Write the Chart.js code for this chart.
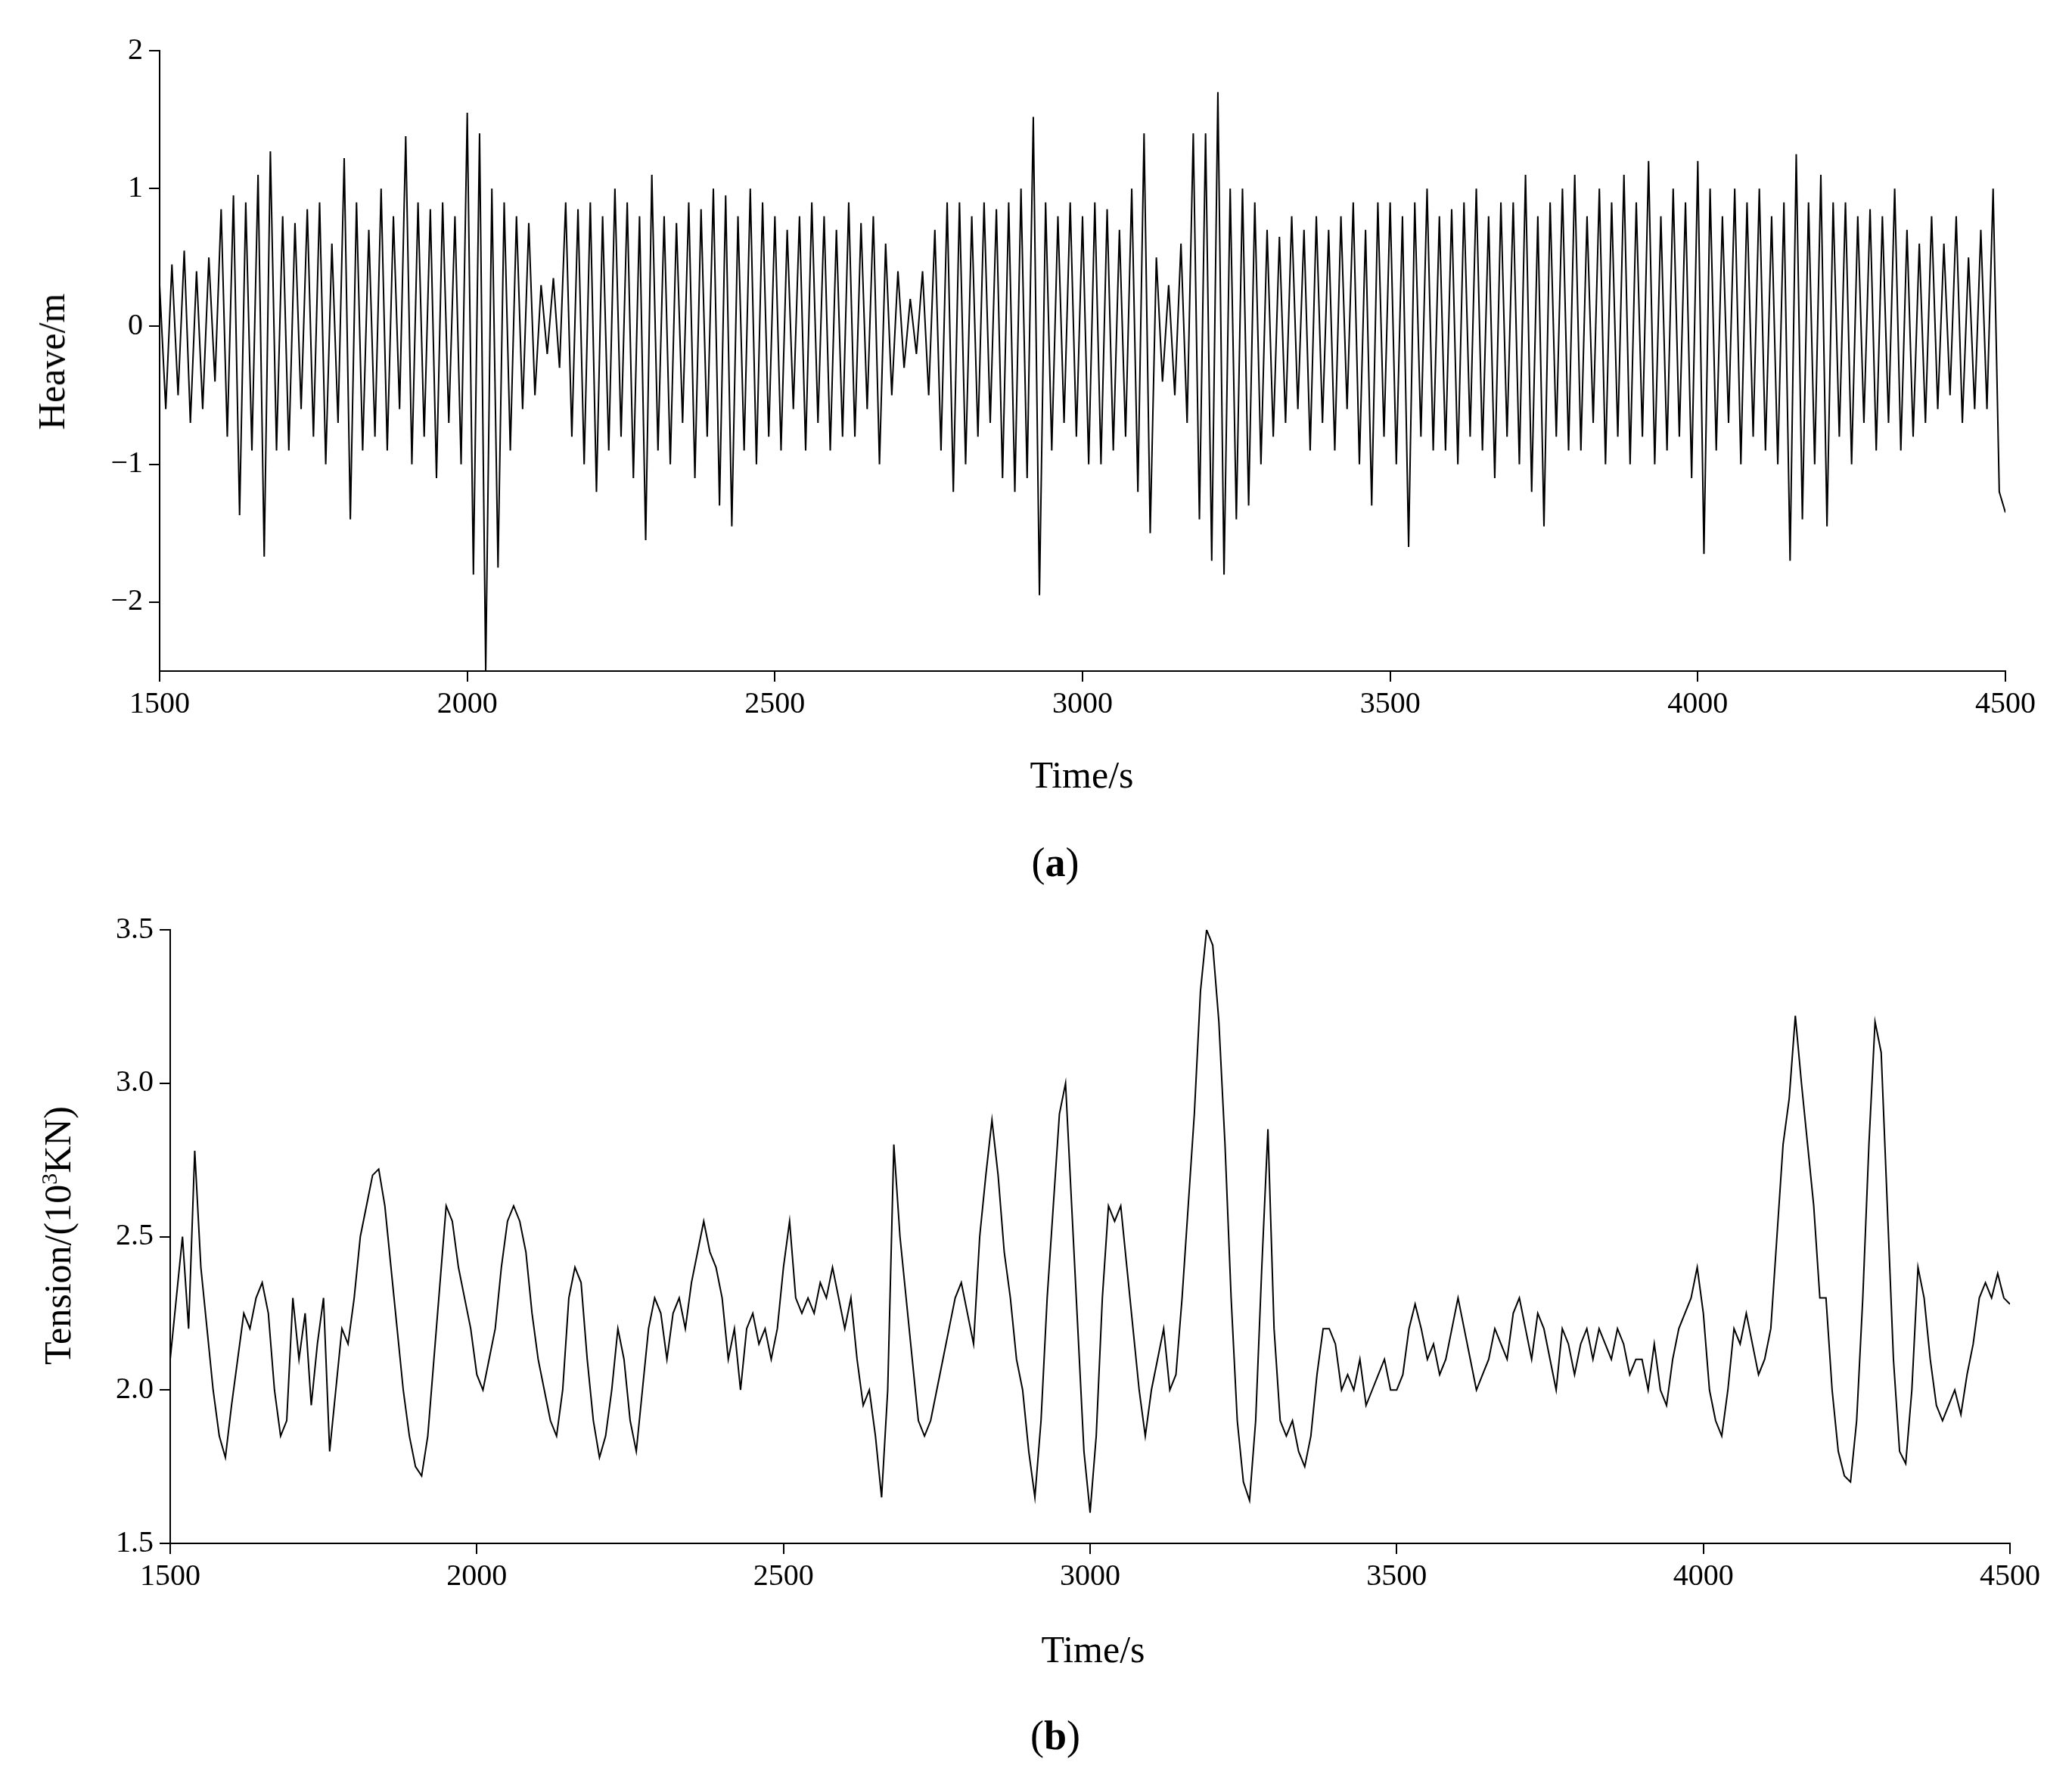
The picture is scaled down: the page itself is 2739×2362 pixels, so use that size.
<!DOCTYPE html>
<html><head><meta charset="utf-8">
<script src="https://cdn.jsdelivr.net/npm/chart.js@4/dist/chart.umd.min.js"></script>
<style>
body{margin:0;background:#fff;width:2739px;height:2362px;position:relative;overflow:hidden;font-family:"Liberation Serif",serif;}
canvas{position:absolute;left:0;}
.t{position:absolute;font-size:50px;color:#000;white-space:nowrap;transform:translate(-50%,-50%);}
.r{transform:translate(-50%,-50%) rotate(-90deg);}
</style></head><body>
<canvas id="ca" style="top:0"></canvas>
<canvas id="cb" style="top:1160px"></canvas>
<div class="t" style="left:1430px;top:1024px">Time/s</div>
<div class="t" style="left:1395px;top:1140px;font-size:54px">(<b>a</b>)</div>
<div class="t r" style="left:68px;top:478px">Heave/m</div>
<div class="t" style="left:1445px;top:2180px">Time/s</div>
<div class="t" style="left:1395px;top:2294px;font-size:54px">(<b>b</b>)</div>
<div class="t r" style="left:76px;top:1633px">Tension/(10<sup style="font-size:30px">3</sup>KN)</div>
<script>
const xTicks=[1500,2000,2500,3000,3500,4000,4500];
const heaveTicks=[-2,-1,0,1,2];
const tensionTicks=[1.5,2.0,2.5,3.0,3.5];
const heave=[
0.3,-0.6,0.45,-0.5,0.55,-0.7,0.4,-0.6,0.5,-0.4,
0.85,-0.8,0.95,-1.37,0.9,-0.9,1.1,-1.67,1.27,-0.9,
0.8,-0.9,0.75,-0.6,0.85,-0.8,0.9,-1.0,0.6,-0.7,
1.22,-1.4,0.9,-0.9,0.7,-0.8,1.0,-0.9,0.8,-0.6,
1.38,-1.0,0.9,-0.8,0.85,-1.1,0.9,-0.7,0.8,-1.0,
1.55,-1.8,1.4,-2.5,1.0,-1.75,0.9,-0.9,0.8,-0.6,
0.75,-0.5,0.3,-0.2,0.35,-0.3,0.9,-0.8,0.85,-1.0,
0.9,-1.2,0.8,-0.9,1.0,-0.8,0.9,-1.1,0.8,-1.55,
1.1,-0.9,0.8,-1.0,0.75,-0.7,0.9,-1.1,0.85,-0.8,
1.0,-1.3,0.95,-1.45,0.8,-0.9,1.0,-1.0,0.9,-0.8,
0.8,-0.9,0.7,-0.6,0.8,-0.9,0.9,-0.7,0.8,-0.9,
0.7,-0.8,0.9,-0.8,0.75,-0.6,0.8,-1.0,0.6,-0.5,
0.4,-0.3,0.2,-0.2,0.4,-0.5,0.7,-0.9,0.9,-1.2,
0.9,-1.0,0.8,-0.8,0.9,-0.7,0.85,-1.1,0.9,-1.2,
1.0,-1.1,1.52,-1.95,0.9,-0.9,0.8,-0.7,0.9,-0.8,
0.8,-1.0,0.9,-1.0,0.85,-0.9,0.7,-0.8,1.0,-1.2,
1.4,-1.5,0.5,-0.4,0.3,-0.5,0.6,-0.7,1.4,-1.4,
1.4,-1.7,1.7,-1.8,1.0,-1.4,1.0,-1.3,0.9,-1.0,
0.7,-0.8,0.65,-0.7,0.8,-0.6,0.7,-0.9,0.8,-0.7,
0.7,-0.9,0.8,-0.6,0.9,-1.0,0.7,-1.3,0.9,-0.8,
0.9,-1.0,0.8,-1.6,0.9,-0.8,1.0,-0.9,0.8,-0.9,
0.85,-1.0,0.9,-0.8,1.0,-0.9,0.8,-1.1,0.9,-0.8,
0.9,-1.0,1.1,-1.2,0.8,-1.45,0.9,-0.8,1.0,-0.9,
1.1,-0.9,0.8,-0.7,1.0,-1.0,0.9,-0.8,1.1,-1.0,
0.9,-0.8,1.2,-1.0,0.8,-0.9,1.0,-0.8,0.9,-1.1,
1.2,-1.65,1.0,-0.9,0.8,-0.7,1.0,-1.0,0.9,-0.8,
1.0,-0.9,0.8,-1.0,0.9,-1.7,1.25,-1.4,0.9,-1.0,
1.1,-1.45,0.9,-0.8,0.9,-1.0,0.8,-0.7,0.85,-0.9,
0.8,-0.7,1.0,-0.9,0.7,-0.8,0.6,-0.7,0.8,-0.6,
0.6,-0.5,0.8,-0.7,0.5,-0.6,0.7,-0.6,1.0,-1.2,
-1.35];
const tension=[
2.1,2.3,2.5,2.2,2.78,2.4,2.2,2.0,1.85,1.78,
1.95,2.1,2.25,2.2,2.3,2.35,2.25,2.0,1.85,1.9,
2.3,2.1,2.25,1.95,2.15,2.3,1.8,2.0,2.2,2.15,
2.3,2.5,2.6,2.7,2.72,2.6,2.4,2.2,2.0,1.85,
1.75,1.72,1.85,2.1,2.35,2.6,2.55,2.4,2.3,2.2,
2.05,2.0,2.1,2.2,2.4,2.55,2.6,2.55,2.45,2.25,
2.1,2.0,1.9,1.85,2.0,2.3,2.4,2.35,2.1,1.9,
1.78,1.85,2.0,2.2,2.1,1.9,1.8,2.0,2.2,2.3,
2.25,2.1,2.25,2.3,2.2,2.35,2.45,2.55,2.45,2.4,
2.3,2.1,2.2,2.0,2.2,2.25,2.15,2.2,2.1,2.2,
2.4,2.55,2.3,2.25,2.3,2.25,2.35,2.3,2.4,2.3,
2.2,2.3,2.1,1.95,2.0,1.85,1.65,2.0,2.8,2.5,
2.3,2.1,1.9,1.85,1.9,2.0,2.1,2.2,2.3,2.35,
2.25,2.15,2.5,2.7,2.88,2.7,2.45,2.3,2.1,2.0,
1.8,1.65,1.9,2.3,2.6,2.9,3.0,2.6,2.2,1.8,
1.6,1.85,2.3,2.6,2.55,2.6,2.4,2.2,2.0,1.85,
2.0,2.1,2.2,2.0,2.05,2.3,2.6,2.9,3.3,3.5,
3.45,3.2,2.8,2.3,1.9,1.7,1.64,1.9,2.4,2.85,
2.2,1.9,1.85,1.9,1.8,1.75,1.85,2.05,2.2,2.2,
2.15,2.0,2.05,2.0,2.1,1.95,2.0,2.05,2.1,2.0,
2.0,2.05,2.2,2.28,2.2,2.1,2.15,2.05,2.1,2.2,
2.3,2.2,2.1,2.0,2.05,2.1,2.2,2.15,2.1,2.25,
2.3,2.2,2.1,2.25,2.2,2.1,2.0,2.2,2.15,2.05,
2.15,2.2,2.1,2.2,2.15,2.1,2.2,2.15,2.05,2.1,
2.1,2.0,2.15,2.0,1.95,2.1,2.2,2.25,2.3,2.4,
2.25,2.0,1.9,1.85,2.0,2.2,2.15,2.25,2.15,2.05,
2.1,2.2,2.5,2.8,2.95,3.22,3.0,2.8,2.6,2.3,
2.3,2.0,1.8,1.72,1.7,1.9,2.3,2.8,3.2,3.1,
2.6,2.1,1.8,1.76,2.0,2.4,2.3,2.1,1.95,1.9,
1.95,2.0,1.92,2.05,2.15,2.3,2.35,2.3,2.38,2.3,
2.28];
const T0=1500, DT=10;
function pts(a){return a.map((v,i)=>({x:T0+i*DT,y:v}));}
const font={family:"Liberation Serif",size:40};
function mk(id,h,data,ymin,ymax,yt,fmt,lw,top,right,bottom){
  const c=document.getElementById(id);
  c.width=2739;c.height=h;c.style.width='2739px';c.style.height=h+'px';
  new Chart(c,{type:'line',data:{datasets:[{data:pts(data),borderColor:'#000',borderWidth:2,pointRadius:0,tension:0}]},
  options:{responsive:false,animation:false,devicePixelRatio:1,
   layout:{padding:{top:top,right:right}},
   plugins:{legend:{display:false},tooltip:{enabled:false}},
   scales:{
    x:{type:'linear',min:1500,max:4500,afterBuildTicks:s=>{s.ticks=xTicks.map(v=>({value:v}));},
       afterFit:s=>{s.height=bottom;},
       grid:{drawOnChartArea:false,color:'#000',tickLength:14,lineWidth:2},border:{color:'#000',width:2},
       ticks:{color:'#000',font:font,maxRotation:0,padding:6,callback:v=>String(v)}},
    y:{min:ymin,max:ymax,afterBuildTicks:s=>{s.ticks=yt.map(v=>({value:v}));},
       afterFit:s=>{s.width=lw;},
       grid:{drawOnChartArea:false,color:'#000',tickLength:14,lineWidth:2},border:{color:'#000',width:2},
       ticks:{color:'#000',font:font,padding:8,callback:fmt}}}}});
}
mk('ca',1000,heave,-2.5,2,heaveTicks,v=>v<0?'\u2212'+Math.abs(v):String(v),211,67,88,113);
mk('cb',1000,tension,1.5,3.5,tensionTicks,v=>v.toFixed(1),225,69,82,120);
</script></body></html>
